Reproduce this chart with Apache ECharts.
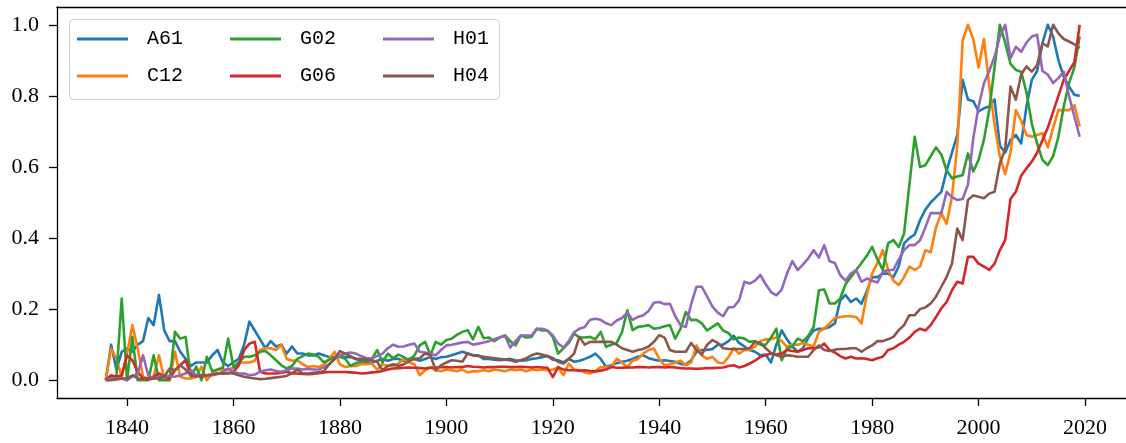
<!DOCTYPE html>
<html><head><meta charset="utf-8">
<script src="https://cdn.jsdelivr.net/npm/echarts@6/dist/echarts.min.js"></script>
<style>html,body{margin:0;padding:0;background:#fff}#c{width:1126px;height:443px}</style>
</head><body><div id="c"></div><script>
const startYear = 1836;
const endYear = 2019;
const seriesNames = ['A61','C12','G02','G06','H01','H04'];
const colors = ['#1f77b4','#ff7f0e','#2ca02c','#d62728','#9467bd','#8c564b'];
const xTicks = [1840,1860,1880,1900,1920,1940,1960,1980,2000,2020];
const yTicks = [0,0.2,0.4,0.6,0.8,1.0];

const A61 = [0.00,0.10,0.03,0.08,
 0.09,0.08,0.10,0.11,0.175,0.155,0.24,0.14,0.11,0.11,
 0.08,0.06,0.04,0.05,0.05,0.05,0.07,0.085,0.05,0.04,
 0.05,0.06,0.10,0.165,0.14,0.115,0.09,0.11,0.095,0.10,
 0.075,0.095,0.075,0.075,0.07,0.07,0.075,0.07,0.065,0.065,
 0.07,0.065,0.065,0.06,0.055,0.05,0.05,0.055,0.06,0.055,
 0.06,0.06,0.055,0.06,0.06,0.055,0.06,0.065,0.06,0.065,
 0.066,0.07,0.075,0.08,0.075,0.07,0.07,0.06,0.06,0.058,
 0.056,0.058,0.06,0.056,0.055,0.056,0.06,0.062,0.065,0.068,
 0.058,0.056,0.05,0.06,0.052,0.055,0.06,0.066,0.075,0.06,
 0.038,0.042,0.048,0.052,0.055,0.06,0.066,0.07,0.062,0.058,
 0.055,0.056,0.054,0.052,0.046,0.044,0.056,0.08,0.085,0.085,
 0.088,0.10,0.10,0.11,0.125,0.105,0.095,0.085,0.08,0.07,
 0.072,0.05,0.10,0.14,0.115,0.095,0.08,0.09,0.12,0.14,
 0.145,0.145,0.15,0.16,0.225,0.24,0.22,0.23,0.215,0.25,
 0.29,0.29,0.30,0.30,0.29,0.32,0.385,0.40,0.41,0.45,
 0.48,0.50,0.515,0.53,0.59,0.64,0.69,0.845,0.79,0.785,
 0.756,0.765,0.77,0.79,0.66,0.64,0.676,0.69,0.666,0.77,
 0.845,0.87,0.948,1.0,0.967,0.90,0.854,0.826,0.803,0.80];

const C12 = [0.0,0.089,0.06,0.01,
 0.075,0.155,0.09,0.01,0.005,0.01,0.07,0.005,0.0,0.08,
 0.01,0.005,0.005,0.01,0.038,0.0,0.02,0.03,0.03,0.03,
 0.035,0.05,0.05,0.05,0.055,0.085,0.09,0.09,0.085,0.10,
 0.06,0.055,0.056,0.045,0.037,0.04,0.037,0.045,0.06,0.08,
 0.045,0.037,0.04,0.04,0.045,0.045,0.047,0.03,0.045,0.04,
 0.04,0.047,0.06,0.05,0.045,0.014,0.028,0.037,0.028,0.025,
 0.03,0.028,0.025,0.03,0.022,0.025,0.025,0.028,0.025,0.03,
 0.028,0.025,0.03,0.028,0.03,0.025,0.03,0.028,0.03,0.028,
 0.03,0.035,0.014,0.047,0.03,0.028,0.022,0.019,0.025,0.037,
 0.037,0.037,0.06,0.05,0.037,0.055,0.06,0.075,0.085,0.089,
 0.06,0.042,0.045,0.05,0.055,0.042,0.05,0.098,0.07,0.06,
 0.066,0.05,0.047,0.065,0.09,0.075,0.085,0.085,0.095,0.11,
 0.115,0.115,0.12,0.11,0.094,0.10,0.10,0.105,0.10,0.095,
 0.136,0.145,0.16,0.175,0.178,0.18,0.18,0.178,0.16,0.24,
 0.30,0.33,0.366,0.31,0.28,0.268,0.29,0.32,0.31,0.32,
 0.366,0.36,0.43,0.47,0.44,0.516,0.66,0.955,1.0,0.96,
 0.88,0.96,0.83,0.72,0.63,0.58,0.64,0.76,0.73,0.69,
 0.685,0.69,0.695,0.655,0.71,0.76,0.76,0.76,0.774,0.714];

const G02 = [0.0,0.01,0.01,0.23,
 0.0,0.122,0.0,0.0,0.0,0.07,0.0,0.0,0.0,0.136,
 0.117,0.122,0.01,0.038,0.0,0.066,0.025,0.03,0.035,0.117,
 0.037,0.05,0.066,0.066,0.07,0.08,0.082,0.07,0.056,0.042,
 0.033,0.04,0.06,0.068,0.075,0.072,0.066,0.05,0.058,0.065,
 0.066,0.06,0.04,0.048,0.052,0.055,0.06,0.085,0.05,0.075,
 0.062,0.072,0.065,0.056,0.07,0.098,0.108,0.07,0.108,0.10,
 0.113,0.117,0.128,0.136,0.141,0.115,0.15,0.118,0.12,0.11,
 0.12,0.126,0.11,0.098,0.126,0.12,0.122,0.145,0.14,0.14,
 0.122,0.075,0.09,0.105,0.131,0.12,0.12,0.122,0.115,0.136,
 0.094,0.10,0.105,0.135,0.197,0.141,0.15,0.152,0.155,0.145,
 0.147,0.152,0.155,0.117,0.145,0.192,0.169,0.17,0.16,0.14,
 0.15,0.16,0.14,0.133,0.115,0.12,0.117,0.108,0.11,0.10,
 0.10,0.12,0.145,0.056,0.089,0.095,0.117,0.11,0.125,0.15,
 0.253,0.255,0.216,0.216,0.23,0.27,0.29,0.31,0.33,0.35,
 0.375,0.34,0.31,0.385,0.394,0.375,0.413,0.55,0.685,0.60,
 0.605,0.63,0.655,0.635,0.59,0.568,0.573,0.577,0.638,0.587,
 0.62,0.676,0.76,0.88,1.0,0.95,0.89,0.873,0.868,0.81,
 0.722,0.666,0.62,0.605,0.63,0.685,0.77,0.836,0.88,0.967];

const G06 = [0.0,0.014,0.01,0.014,
 0.07,0.056,0.024,0.005,0.005,0.01,0.019,0.01,0.005,0.028,
 0.042,0.056,0.014,0.014,0.01,0.014,0.014,0.019,0.019,0.019,
 0.024,0.042,0.085,0.103,0.108,0.024,0.019,0.019,0.019,0.021,
 0.024,0.019,0.019,0.018,0.017,0.018,0.02,0.022,0.023,0.023,
 0.023,0.023,0.022,0.021,0.019,0.02,0.022,0.023,0.026,0.03,
 0.033,0.034,0.035,0.036,0.035,0.034,0.033,0.035,0.036,0.037,
 0.037,0.036,0.037,0.037,0.04,0.038,0.037,0.036,0.037,0.037,
 0.038,0.038,0.037,0.037,0.038,0.037,0.036,0.037,0.036,0.035,
 0.009,0.037,0.03,0.028,0.028,0.027,0.028,0.026,0.025,0.027,
 0.03,0.037,0.035,0.035,0.036,0.036,0.037,0.037,0.036,0.037,
 0.037,0.036,0.037,0.036,0.034,0.033,0.033,0.032,0.033,0.034,
 0.034,0.035,0.036,0.04,0.042,0.036,0.04,0.047,0.055,0.066,
 0.07,0.075,0.072,0.075,0.085,0.082,0.08,0.085,0.09,0.09,
 0.092,0.103,0.085,0.078,0.068,0.061,0.066,0.061,0.062,0.06,
 0.056,0.062,0.066,0.085,0.09,0.10,0.108,0.12,0.136,0.145,
 0.14,0.155,0.178,0.202,0.22,0.253,0.277,0.272,0.347,0.347,
 0.328,0.32,0.31,0.328,0.366,0.394,0.51,0.53,0.575,0.596,
 0.615,0.64,0.675,0.71,0.755,0.80,0.845,0.87,0.895,1.0];

const H01 = [0.0,0.005,0.005,0.005,
 0.0,0.01,0.019,0.07,0.014,0.005,0.01,0.01,0.012,0.01,
 0.014,0.019,0.028,0.014,0.014,0.014,0.016,0.017,0.024,0.033,
 0.024,0.019,0.019,0.014,0.016,0.024,0.028,0.03,0.026,0.024,
 0.028,0.033,0.033,0.03,0.032,0.03,0.03,0.037,0.045,0.06,
 0.07,0.075,0.078,0.075,0.068,0.062,0.062,0.068,0.075,0.09,
 0.10,0.094,0.095,0.10,0.103,0.08,0.078,0.074,0.07,0.085,
 0.098,0.10,0.103,0.106,0.108,0.10,0.103,0.106,0.11,0.115,
 0.12,0.126,0.092,0.11,0.126,0.126,0.126,0.145,0.145,0.14,
 0.126,0.103,0.092,0.11,0.135,0.145,0.15,0.17,0.173,0.17,
 0.16,0.155,0.168,0.175,0.19,0.17,0.178,0.183,0.195,0.218,
 0.22,0.214,0.215,0.18,0.155,0.15,0.215,0.263,0.263,0.235,
 0.207,0.19,0.18,0.205,0.206,0.225,0.277,0.272,0.28,0.296,
 0.27,0.248,0.239,0.255,0.30,0.335,0.31,0.325,0.343,0.366,
 0.345,0.38,0.335,0.33,0.296,0.28,0.30,0.31,0.277,0.286,
 0.28,0.275,0.305,0.31,0.31,0.34,0.366,0.38,0.38,0.394,
 0.43,0.47,0.47,0.47,0.53,0.515,0.507,0.51,0.55,0.68,
 0.77,0.835,0.87,0.91,0.967,1.0,0.906,0.938,0.924,0.95,
 0.967,0.972,0.87,0.86,0.836,0.85,0.868,0.80,0.742,0.685];

const H04 = [0.0,0.0,0.002,0.005,
 0.005,0.014,0.005,0.003,0.002,0.005,0.005,0.01,0.033,0.028,
 0.042,0.03,0.014,0.01,0.014,0.014,0.016,0.019,0.019,0.021,
 0.019,0.014,0.01,0.007,0.005,0.003,0.004,0.006,0.008,0.01,
 0.012,0.02,0.03,0.019,0.019,0.021,0.022,0.026,0.045,0.06,
 0.082,0.075,0.068,0.06,0.06,0.058,0.056,0.052,0.028,0.04,
 0.045,0.04,0.045,0.054,0.06,0.062,0.075,0.07,0.028,0.042,
 0.05,0.056,0.055,0.052,0.075,0.07,0.068,0.066,0.064,0.062,
 0.06,0.058,0.056,0.052,0.056,0.062,0.07,0.075,0.072,0.068,
 0.062,0.052,0.047,0.06,0.075,0.122,0.10,0.108,0.108,0.108,
 0.108,0.108,0.10,0.09,0.085,0.08,0.085,0.088,0.095,0.108,
 0.127,0.12,0.085,0.08,0.08,0.08,0.105,0.085,0.072,0.10,
 0.113,0.105,0.09,0.088,0.088,0.088,0.088,0.09,0.108,0.105,
 0.09,0.077,0.07,0.066,0.07,0.069,0.066,0.066,0.066,0.085,
 0.098,0.085,0.082,0.086,0.088,0.088,0.09,0.09,0.08,0.09,
 0.098,0.11,0.11,0.115,0.122,0.141,0.155,0.183,0.183,0.20,
 0.205,0.216,0.235,0.263,0.291,0.328,0.427,0.394,0.507,0.52,
 0.516,0.512,0.525,0.53,0.61,0.65,0.826,0.789,0.86,0.883,
 0.868,0.887,0.948,0.939,1.0,0.976,0.96,0.953,0.945,0.934];

const values = [A61, C12, G02, G06, H01, H04];
const years = [];
for (let y = startYear; y <= endYear; y++) years.push(y);

const chart = echarts.init(document.getElementById('c'), null, {renderer: 'canvas'});
const tickFont = {fontFamily: '"Liberation Serif", "DejaVu Serif", serif', fontSize: 22, color: '#000'};
const legendText = {fontFamily: '"Liberation Mono", "DejaVu Sans Mono", monospace', fontSize: 20, lineHeight: 20, color: '#000', padding: [0, 0, 0, 14]};
function legendCol(names, left) {
  return {data: names, orient: 'vertical', left: left, top: 29, padding: 0, itemGap: 17,
    icon: 'rect', itemWidth: 51, itemHeight: 3, textStyle: legendText, selectedMode: false, z: 5};
}
chart.setOption({
  animation: false,
  grid: {left: 57, right: 0, top: 7, bottom: 45, outerBoundsMode: 'none'},
  xAxis: [{
    type: 'value', min: 1826.84, max: 2027.7,
    axisLine: {show: true, onZero: false, lineStyle: {color: '#000', width: 1.3}},
    axisTick: {show: true, customValues: xTicks, length: 8, lineStyle: {color: '#000', width: 1.3}},
    axisLabel: Object.assign({customValues: xTicks, margin: 19, formatter: v => String(v)}, tickFont),
    splitLine: {show: false}
  }, {
    type: 'value', min: 1826.84, max: 2027.7, position: 'top',
    axisLine: {show: true, onZero: false, lineStyle: {color: '#000', width: 1.3}},
    axisTick: {show: false}, axisLabel: {show: false}, splitLine: {show: false}
  }],
  yAxis: {
    type: 'value', min: -0.05, max: 1.05,
    axisLine: {show: true, onZero: false, lineStyle: {color: '#000', width: 1.3}},
    axisTick: {show: true, customValues: yTicks, length: 8, lineStyle: {color: '#000', width: 1.3}},
    axisLabel: Object.assign({customValues: yTicks, margin: 18, formatter: v => v.toFixed(1)}, tickFont),
    splitLine: {show: false}
  },
  legend: [legendCol(['A61','C12'], 77), legendCol(['G02','G06'], 230), legendCol(['H01','H04'], 383)],
  graphic: [{type: 'rect', z: 4, shape: {x: 69.5, y: 19.5, width: 430, height: 80, r: 4},
    style: {fill: 'rgba(255,255,255,0.8)', stroke: '#d0d0d0', lineWidth: 1}}],
  series: seriesNames.map((n, i) => ({
    name: n, type: 'line', xAxisIndex: 0, showSymbol: false, symbol: 'none',
    color: colors[i],
    lineStyle: {color: colors[i], width: 2.6, join: 'round'},
    data: years.map((y, k) => [y, values[i][k]])
  }))
});
</script></body></html>
